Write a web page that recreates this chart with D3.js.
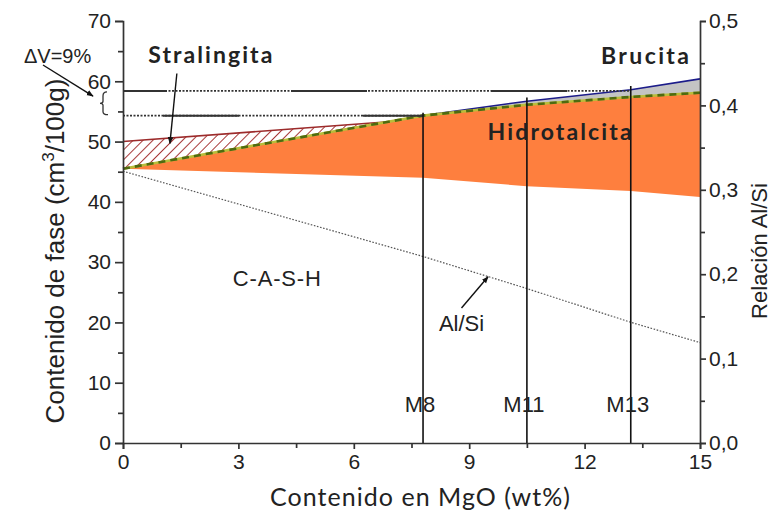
<!DOCTYPE html>
<html>
<head>
<meta charset="utf-8">
<script src="https://cdn.jsdelivr.net/npm/d3@7"></script>
<style>
  body { margin: 0; background: #fff; }
  svg { display: block; }
</style>
</head>
<body>
<div id="chart"></div>
<script>
// MgO content (wt%) where the phase boundaries were read
const mgo = [0, 7.8, 10.5, 13.2, 15];
// phase content, cm3/100g
const cashTop = [45.5, 44.0, 42.6, 41.8, 40.8];
const hidroTop = [45.5, 54.3, 56.1, 57.4, 58.1];
const bruciteX = [7.8, 10.5, 13.2, 15];
const bruciteTop = [54.3, 56.7, 58.6, 60.4];
const hidroUnderBrucite = [54.3, 56.1, 57.4, 58.1];
// stratlingite wedge
const stralX = [0, 6.9];
const stralTop = [50, 53.3];
const stralBottom = [45.5, 53.3];
// Al/Si ratio of the C-A-S-H (right axis)
const alsiX = [0, 7.8, 10.5, 13.2, 15];
const alsi = [0.322, 0.221, 0.183, 0.143, 0.119];
// ΔV reference levels and where they stop
const dvLevels = [58.4, 54.3];
const dvEnds = [13.2, 7.8];
// samples
const sampleNames = ['M8', 'M11', 'M13'];
const sampleX = [7.8, 10.5, 13.2];
const sampleTop = [54.8, 57.3, 59.2];
// ticks
const xTicks = [0, 3, 6, 9, 12, 15];
const xMinor = [1.5, 4.5, 7.5, 10.5, 13.5];
const yTicks = [0, 10, 20, 30, 40, 50, 60, 70];
const yMinor = [5, 15, 25, 35, 45, 55, 65];
const y2Ticks = [0, 0.1, 0.2, 0.3, 0.4, 0.5];
const y2Minor = [0.05, 0.15, 0.25, 0.35, 0.45];

const W = 774, H = 518;
const margin = {top: 21, right: 74, bottom: 75, left: 123};
const iw = W - margin.left - margin.right;
const ih = H - margin.top - margin.bottom;

const svg = d3.select('#chart').append('svg')
    .attr('width', W).attr('height', H);

const defs = svg.append('defs');
defs.append('pattern')
    .attr('id', 'hatch')
    .attr('patternUnits', 'userSpaceOnUse')
    .attr('width', 7).attr('height', 7)
    .attr('patternTransform', 'rotate(45)')
  .append('line')
    .attr('x1', 0).attr('y1', 0).attr('x2', 0).attr('y2', 7)
    .attr('stroke', '#a83a3a').attr('stroke-width', 2);
defs.append('marker')
    .attr('id', 'arrow')
    .attr('viewBox', '0 0 10 10')
    .attr('refX', 9).attr('refY', 5)
    .attr('markerWidth', 7).attr('markerHeight', 7)
    .attr('markerUnits', 'userSpaceOnUse')
    .attr('orient', 'auto')
  .append('path')
    .attr('d', 'M0,1 L10,5 L0,9 Z')
    .attr('fill', '#111');

const g = svg.append('g')
    .attr('transform', 'translate(' + margin.left + ',' + margin.top + ')');

const x = d3.scaleLinear().domain([0, 15]).range([0, iw]);
const y = d3.scaleLinear().domain([0, 70]).range([ih, 0]);
const y2 = d3.scaleLinear().domain([0, 0.5]).range([ih, 0]);

// orange hydrotalcite band
g.append('path')
    .datum(mgo.map((d, i) => [d, cashTop[i], hidroTop[i]]))
    .attr('fill', '#fe7f3e')
    .attr('d', d3.area().x((d) => x(d[0])).y0((d) => y(d[1])).y1((d) => y(d[2])));

// grey brucite sliver
g.append('path')
    .datum(bruciteX.map((d, i) => [d, hidroUnderBrucite[i], bruciteTop[i]]))
    .attr('fill', '#c4c4c4')
    .attr('d', d3.area().x((d) => x(d[0])).y0((d) => y(d[1])).y1((d) => y(d[2])));

// hatched stratlingite wedge
g.append('path')
    .datum(stralX.map((d, i) => [d, stralBottom[i], stralTop[i]]))
    .attr('fill', 'url(#hatch)')
    .attr('d', d3.area().x((d) => x(d[0])).y0((d) => y(d[1])).y1((d) => y(d[2])));
g.append('path')
    .datum(stralX.map((d, i) => [d, stralTop[i]]))
    .attr('fill', 'none')
    .attr('stroke', '#9c2b2b').attr('stroke-width', 1.6)
    .attr('d', d3.line().x((d) => x(d[0])).y((d) => y(d[1])));

const line = d3.line().x((d) => x(d[0])).y((d) => y(d[1]));

// blue upper line of brucite
g.append('path')
    .datum(bruciteX.map((d, i) => [d, bruciteTop[i]]))
    .attr('fill', 'none')
    .attr('stroke', '#1c1c8a').attr('stroke-width', 1.6)
    .attr('d', line);

// green top of hydrotalcite
const hidroLine = mgo.map((d, i) => [d, hidroTop[i]]);
g.append('path')
    .datum(hidroLine)
    .attr('fill', 'none')
    .attr('stroke', '#b9bd3a').attr('stroke-width', 2.6)
    .attr('d', line);
g.append('path')
    .datum(hidroLine)
    .attr('fill', 'none')
    .attr('stroke', '#4f6a10').attr('stroke-width', 2.6)
    .attr('stroke-dasharray', '7,5')
    .attr('d', line);

// Al/Si ratio, dotted
g.append('path')
    .datum(alsiX.map((d, i) => [d, alsi[i]]))
    .attr('fill', 'none')
    .attr('stroke', '#555').attr('stroke-width', 1.2)
    .attr('stroke-dasharray', '1.6,1.6')
    .attr('d', d3.line().x((d) => x(d[0])).y((d) => y2(d[1])));

// ΔV reference lines: dotted with long solid dashes
const dvOffsets = [32, -40];
dvLevels.forEach((lv, i) => {
  const seg = [[0, lv], [dvEnds[i], lv]];
  g.append('path').datum(seg)
      .attr('stroke', '#333').attr('stroke-width', 1.8)
      .attr('stroke-dasharray', '2,1.5')
      .attr('d', line);
  g.append('path').datum(seg)
      .attr('stroke', '#333').attr('stroke-width', 2)
      .attr('stroke-dasharray', '76,124')
      .attr('stroke-dashoffset', dvOffsets[i])
      .attr('d', line);
});

// sample lines
g.selectAll('.sample')
    .data(sampleX)
    .enter()
    .append('line')
    .attr('x1', (d) => x(d)).attr('x2', (d) => x(d))
    .attr('y1', y(0)).attr('y2', (d, i) => y(sampleTop[i]))
    .attr('stroke', '#111').attr('stroke-width', 1.6);
g.selectAll('.sampleLabel')
    .data(sampleNames)
    .enter()
    .append('text')
    .attr('x', (d, i) => x(sampleX[i]) - 3)
    .attr('y', y(5.2))
    .attr('text-anchor', 'middle')
    .attr('font-family', 'Liberation Sans, Arial, sans-serif')
    .attr('font-size', 22)
    .attr('fill', '#222')
    .text((d) => d);

// axes
const axisStyle = (sel) => {
  sel.selectAll('path, line').attr('stroke', '#333').attr('stroke-width', 1.7);
  sel.selectAll('text')
      .attr('font-family', 'Liberation Sans, Arial, sans-serif')
      .attr('font-size', 21)
      .attr('fill', '#222');
};
const comma = (d) => d3.format('.1f')(d).replace('.', ',');

g.append('g').call(d3.axisLeft(y).tickValues(yTicks).tickSize(8).tickPadding(4)).call(axisStyle);
g.append('g').call(d3.axisLeft(y).tickValues(yMinor).tickSize(5).tickFormat('')).call(axisStyle)
    .select('.domain').remove();

g.append('g').attr('transform', 'translate(' + iw + ',0)')
    .call(d3.axisRight(y2).tickValues(y2Ticks).tickSize(6).tickPadding(3).tickFormat(comma)).call(axisStyle);
g.append('g').attr('transform', 'translate(' + iw + ',0)')
    .call(d3.axisRight(y2).tickValues(y2Minor).tickSize(5).tickFormat('')).call(axisStyle)
    .select('.domain').remove();

g.append('g').attr('transform', 'translate(0,' + ih + ')')
    .call(d3.axisBottom(x).tickValues(xTicks).tickSize(6).tickPadding(5)).call(axisStyle);
g.append('g').attr('transform', 'translate(0,' + ih + ')')
    .call(d3.axisBottom(x).tickValues(xMinor).tickSize(5).tickFormat('')).call(axisStyle)
    .select('.domain').remove();

// axis titles
svg.append('text')
    .attr('x', 420).attr('y', 506)
    .attr('text-anchor', 'middle')
    .attr('font-family', 'Lato, sans-serif')
    .attr('font-size', 25)
    .attr('fill', '#222')
    .attr('textLength', 300)
    .text('Contenido en MgO (wt%)');

const yTitle = svg.append('text')
    .attr('transform', 'translate(64,251) rotate(-90)')
    .attr('text-anchor', 'middle')
    .attr('font-family', 'Liberation Sans, Arial, sans-serif')
    .attr('font-size', 26)
    .attr('fill', '#222');
yTitle.append('tspan').text('Contenido de fase (cm');
yTitle.append('tspan').attr('font-size', 17).attr('dy', -10).text('3');
yTitle.append('tspan').attr('dy', 10).text('/100g)');

svg.append('text')
    .attr('transform', 'translate(767,251) rotate(-90)')
    .attr('text-anchor', 'middle')
    .attr('font-family', 'Liberation Sans, Arial, sans-serif')
    .attr('font-size', 22)
    .attr('fill', '#222')
    .text('Relación Al/Si');

// phase labels
const label = (txt, cx, cy, size, bold, len) => {
  const t = g.append('text')
      .attr('x', cx).attr('y', cy)
      .attr('text-anchor', 'middle')
      .attr('font-family', bold ? 'Lato, sans-serif' : 'Liberation Sans, Arial, sans-serif')
      .attr('font-weight', bold ? 'bold' : 'normal')
      .attr('font-size', size)
      .attr('fill', '#222')
      .text(txt);
  if (len) t.attr('textLength', len);
  return t;
};
label('Stralingita', x(2.27), y(63.0), 23, true, 124);
label('Brucita', x(13.57), y(62.8), 23, true, 88);
label('Hidrotalcita', x(11.35), y(50.2), 23, true, 144);
label('C-A-S-H', x(4.0), y(26.0), 22, false, 88);
label('Al/Si', x(8.8), y(18.6), 22, false);
label('ΔV=9%', x(-1.7), y(63.0), 20, false);

// arrows
const arrow = (x1, y1, x2, y2v) => g.append('line')
    .attr('x1', x1).attr('y1', y1).attr('x2', x2).attr('y2', y2v)
    .attr('stroke', '#111').attr('stroke-width', 1.4)
    .attr('marker-end', 'url(#arrow)');
arrow(x(1.40), y(61.3), x(1.22), y(49.7));
arrow(x(-2.08), y(62.7), x(-0.78), y(57.55));
arrow(x(8.80), y2(0.160), x(9.49), y2(0.197));

// brace between the two ΔV levels
const bx = x(0) - 20;
const yt = y(dvLevels[0]), yb = y(dvLevels[1]);
const ym = (yt + yb) / 2;
g.append('path')
    .attr('d', 'M' + (bx + 4) + ',' + (yt + 1) +
      ' Q' + bx + ',' + (yt + 1) + ' ' + bx + ',' + (yt + 5) +
      ' L' + bx + ',' + (ym - 2) +
      ' Q' + bx + ',' + ym + ' ' + (bx - 3) + ',' + ym +
      ' Q' + bx + ',' + ym + ' ' + bx + ',' + (ym + 2) +
      ' L' + bx + ',' + (yb - 4) +
      ' Q' + bx + ',' + (yb - 1) + ' ' + (bx + 5) + ',' + (yb - 1))
    .attr('fill', 'none')
    .attr('stroke', '#333').attr('stroke-width', 1.3);
</script>
</body>
</html>
